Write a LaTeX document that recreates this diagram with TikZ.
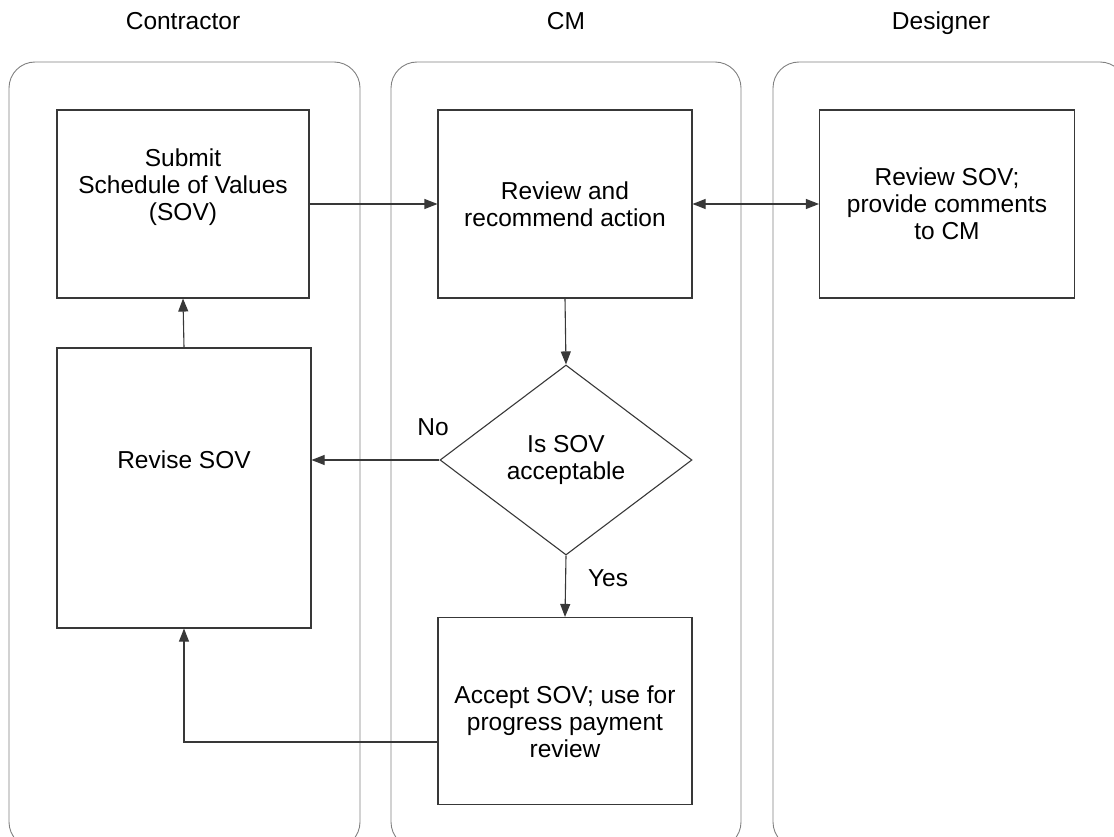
\documentclass[tikz,border=0pt]{standalone}
\usepackage{fontspec}
\setmainfont{Liberation Sans}
\usetikzlibrary{arrows.meta,shapes.geometric}
\begin{document}
\begin{tikzpicture}[x=1pt,y=-1pt,
  lane/.style={draw=black!50, line width=0.9pt, rounded corners=26pt},
  box/.style={draw=black!78, line width=1.1pt, rectangle, inner sep=0pt},
  txt/.style={align=center, font=\fontsize{24.5}{27}\selectfont, text=black},
  head/.style={txt, anchor=base},
  flow/.style={draw=black!78, line width=1.1pt, -{Triangle[length=13pt,width=10pt]}},
  both/.style={draw=black!78, line width=1.1pt, {Triangle[length=13pt,width=10pt]}-{Triangle[length=13pt,width=10pt]}},
]
\useasboundingbox (0,0) rectangle (1114,837);
\clip (0,0) rectangle (1114,837);

% swimlanes
\draw[lane] (9,62) rectangle (360,848);
\draw[lane] (391,62) rectangle (741,848);
\draw[lane] (773,62) rectangle (1126,848);

% lane headings
\node[head] (hcon) at (183,30) {Contractor};
\node[head] (hcm) at (566,30) {CM};
\node[head] (hdes) at (941,30) {Designer};

% process boxes
\node[box, minimum width=252pt, minimum height=188pt,
  label={[txt, yshift=17pt]center:Submit\\Schedule of Values\\(SOV)}] (submit) at (183,204) {};
\node[box, minimum width=254pt, minimum height=188pt,
  label={[txt]center:Review and\\recommend action}] (review) at (565,204) {};
\node[box, minimum width=255pt, minimum height=188pt,
  label={[txt]center:Review SOV;\\provide comments\\to CM}] (designer) at (947,204) {};
\node[box, minimum width=254pt, minimum height=280pt,
  label={[txt, yshift=28pt]center:Revise SOV}] (revise) at (184,488) {};
\node[box, minimum width=254pt, minimum height=187pt,
  label={[txt, yshift=-11pt]center:Accept SOV; use for\\progress payment\\review}] (accept) at (565,711) {};

% decision
\node[draw=black!78, line width=1.1pt, diamond, inner sep=0pt,
  minimum width=252pt, minimum height=190pt, aspect=1.33,
  txt] (dia) at (566,460) {Is SOV\\acceptable};

% connectors
\draw[flow] (submit.east) -- (review.west);
\draw[both] (review.east) -- (designer.west);
\draw[flow] (review.south) -- (dia.north);
\draw[flow] (revise.north) -- (submit.south);
\draw[flow] (dia.west) -- (dia.west -| revise.east);
\draw[flow] (dia.south) -- (accept.north);
\draw[flow] ([yshift=-31pt]accept.west) -| (revise.south);

% branch labels
\node[txt] (lno) at (433,427) {No};
\node[txt] (lyes) at (608,578) {Yes};
\end{tikzpicture}
\end{document}
